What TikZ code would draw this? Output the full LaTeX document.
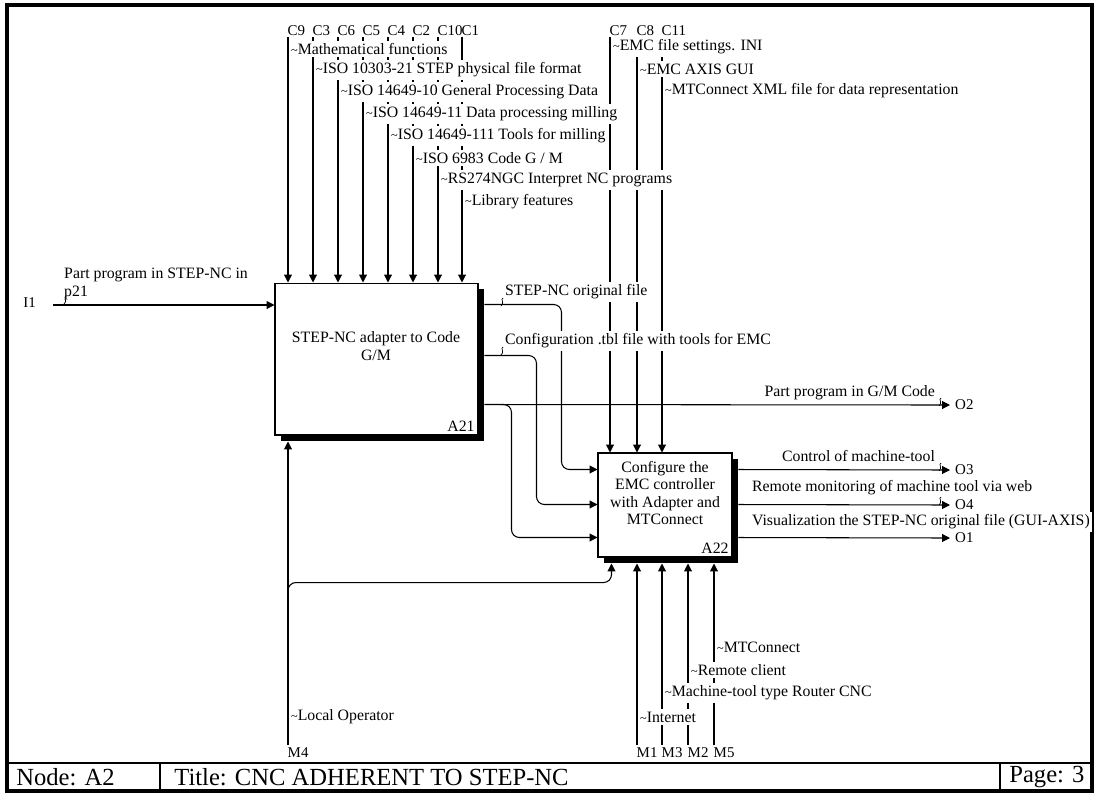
\documentclass[tikz,border=0pt]{standalone}
\usepackage{fontspec}
\setmainfont{Liberation Serif}
\usetikzlibrary{arrows.meta, positioning, calc, shadows, backgrounds}

\newcommand{\lbl}{\fontsize{9}{9.9}\selectfont}
\newcommand{\tagfont}{\fontsize{8.5}{9.5}\selectfont}
\newcommand{\ttl}{\fontsize{14}{16}\selectfont}
\newcommand{\sq}{{\fontsize{7}{7}\selectfont\textasciitilde}}

\tikzset{
  flow/.style={line width=0.6pt, -{Triangle[length=4.5pt,width=4.5pt]}},
  actbox/.style={draw, line width=0.6pt, fill=white,
    drop shadow={shadow xshift=0.12cm, shadow yshift=-0.12cm, fill=black, opacity=1}},
  arrlabel/.style={draw=none, fill=white, anchor=west, inner xsep=1pt, inner ysep=1.6pt},
  code/.style={font=\tagfont, inner sep=0.5pt},
  squig/.pic={\draw[line width=0.4pt] (0,0) .. controls (-3,1) and (2,5) .. (-2,8);}
}

\begin{document}
\begin{tikzpicture}[x=0.02cm, y=-0.02cm, font=\lbl]
\useasboundingbox (0,0) rectangle (1098,796);

% frame and title row
\draw[line width=2pt] (7,5) rectangle (1092,791);
\draw[line width=1.6pt] (7,763) -- (1092,763);
\draw[line width=0.8pt] (160,763) -- (160,791) (1000,763) -- (1000,791);
\node[anchor=west, font=\ttl, inner sep=0pt] (nodecell) at (16,777) {Node: A2};
\node[anchor=west, font=\ttl, inner sep=0pt] (titlecell) at (174,777) {Title: CNC ADHERENT TO STEP-NC};
\node[anchor=west, font=\ttl, inner sep=0pt] (pagecell) at (1009,777) {Page: 3};

% activities
\node[actbox, minimum width=4.06cm, minimum height=3.04cm] (a21) at (376.5,359) {};
\node[actbox, minimum width=2.68cm, minimum height=2.08cm] (a22) at (665,505) {};
\node[align=center] (a21t) at (376,346) {STEP-NC adapter to Code\\G/M};
\node[align=center] (a22t) at (665,493) {Configure the\\EMC controller\\with Adapter and\\MTConnect};
\node[anchor=south east, inner sep=2pt] (a21n) at (a21.south east) {A21};
\node[anchor=south east, inner sep=2pt] (a22n) at (a22.south east) {A22};

% coordinates of the arrow ends
\coordinate (out1) at ($(a21.north east)+(0,22)$);
\coordinate (out2) at ($(a21.north east)+(0,73)$);
\coordinate (out3) at ($(a21.north east)+(0,122)$);
\coordinate (in1) at ($(a22.north west)+(0,17)$);
\coordinate (in2) at ($(a22.north west)+(0,52)$);
\coordinate (in3) at ($(a22.north west)+(0,85)$);
\coordinate (I1) at (53,305);
\coordinate (O2) at (950,405);
\coordinate (O3) at (950,470);
\coordinate (O4) at (950,505);
\coordinate (O1) at (950,538);

% controls
\foreach \x/\cl in {288/C9, 313/C3, 338/C6, 363/C5, 388/C4, 413/C2, 438/C10, 462/C1, 610/C7, 637/C8, 662/C11}{
  \coordinate (\cl) at (\x,37);
  \node[code, anchor=south west] (\cl n) at ($(\cl)+(-1.5,0)$) {\cl};
}
% mechanisms
\foreach \x/\m in {288/M4, 637/M1, 662/M3, 688/M2, 714/M5}{
  \coordinate (\m) at (\x,745);
  \node[code, anchor=north west] (\m n) at ($(\m)+(-1.5,1)$) {\m};
}
\node[code, anchor=east] (I1 n) at ($(I1)+(-16,-2)$) {I1};
\foreach \o in {O2, O3, O4, O1}
  \node[code, anchor=west] (\o n) at ($(\o)+(4,0)$) {\o};

\begin{scope}[on background layer]
\foreach \cl in {C9, C3, C6, C5, C4, C2, C10, C1}
  \draw[flow] (\cl) -- (\cl |- a21.north);
\foreach \cl in {C7, C8, C11}
  \draw[flow] (\cl) -- (\cl |- a22.north);
\draw[flow, shorten >=3.4pt] (M4) -- (M4 |- a21.south);
\foreach \m in {M1, M3, M2, M5}
  \draw[flow, shorten >=3.4pt] (\m) -- (\m |- a22.south);
\draw[flow, rounded corners=4.5pt, shorten >=3.4pt] (288,595) |- ($(a22.south west)+(14,25)$) -- ($(a22.south west)+(14,0)$);
\draw[flow] (I1) -- (I1 -| a21.west);
\draw[flow, rounded corners=4.5pt, shorten <=3.4pt] (out1) -| ($(in1)+(-36,0)$) -- (in1);
\draw[flow, rounded corners=4.5pt, shorten <=3.4pt] (out2) -| ($(in2)+(-61,0)$) -- (in2);
\draw[flow, shorten <=3.4pt] (out3) -- (O2);
\draw[flow, rounded corners=4.5pt] ($(out3)+(22,0)$) -| ($(in3)+(-86,0)$) -- (in3);
\draw[flow, shorten <=3.4pt] ($(a22.north east)+(0,17)$) -- (O3);
\draw[flow, shorten <=3.4pt] ($(a22.north east)+(0,52)$) -- (O4);
\draw[flow, shorten <=3.4pt] ($(a22.north east)+(0,85)$) -- (O1);
\end{scope}

% labels on arrows
\node[anchor=west, align=left, inner sep=0.5pt] (ilab) at (63,284) {Part program in STEP-NC in\\p21};
\node[arrlabel] (t1) at (289,49) {\sq Mathematical functions};
\node[arrlabel] (t2) at (314,70) {\sq ISO 10303-21 STEP physical file format};
\node[arrlabel] (t3) at (339,92) {\sq ISO 14649-10 General Processing Data};
\node[arrlabel] (t4) at (364,114) {\sq ISO 14649-11 Data processing milling};
\node[arrlabel] (t5) at (389,136) {\sq ISO 14649-111 Tools for milling};
\node[arrlabel] (t6) at (414,158) {\sq ISO 6983 Code G / M};
\node[arrlabel] (t7) at (439,180) {\sq RS274NGC Interpret NC programs};
\node[arrlabel] (t8) at (463,202) {\sq Library features};
\node[arrlabel] (t9) at (611,47) {\sq EMC file settings. INI};
\node[arrlabel] (t10) at (638,69) {\sq EMC AXIS GUI};
\node[arrlabel] (t11) at (663,91) {\sq MTConnect XML file for data representation};
\node[arrlabel] (t12) at (715,647) {\sq MTConnect};
\node[arrlabel] (t13) at (689,670) {\sq Remote client};
\node[arrlabel] (t14) at (663,693) {\sq Machine-tool type Router CNC};
\node[arrlabel] (t15) at (638,717) {\sq Internet};
\node[arrlabel] (t16) at (289,717) {\sq Local Operator};

\node[arrlabel] (s1) at (503,292) {STEP-NC original file};
\node[arrlabel] (s2) at (503,341) {Configuration .tbl file with tools for EMC};
\node[arrlabel, anchor=east] (s3) at (937,393) {Part program in G/M Code};
\node[arrlabel, anchor=east] (s4) at (937,456) {Control of machine-tool};
\node[arrlabel] (s5) at (750,488) {Remote monitoring of machine tool via web};
\node[arrlabel] (s6) at (750,522) {Visualization the STEP-NC original file (GUI-AXIS)};
\pic at (66,296) {squig};
\pic at (503,298) {squig};
\pic at (503,347) {squig};
\pic at (941,398) {squig};
\pic at (941,463) {squig};
\pic at (941,497) {squig};
\end{tikzpicture}
\end{document}
